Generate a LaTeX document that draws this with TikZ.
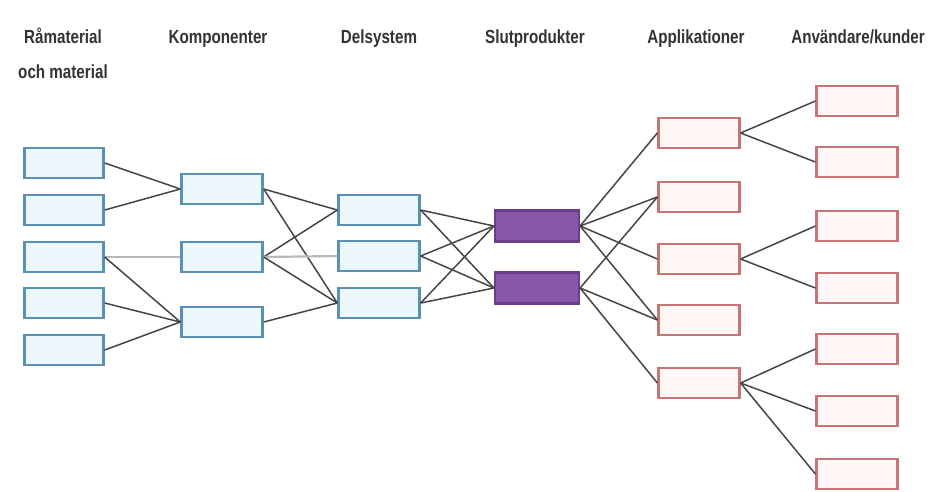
\documentclass[tikz,border=0pt]{standalone}
\usepackage{fontspec}
\setmainfont{Liberation Sans}[FakeStretch=0.8]
\definecolor{bluebd}{HTML}{5A90B4}
\definecolor{bluefill}{HTML}{ECF8FC}
\definecolor{redbd}{HTML}{C87474}
\definecolor{redfill}{HTML}{FFF8F6}
\definecolor{purpfill}{HTML}{8A58A8}
\definecolor{purpbd}{HTML}{6A3F88}
\definecolor{linec}{HTML}{454545}
\begin{document}
\begin{tikzpicture}[x=1pt,y=-1pt,
  bluebox/.style={draw=bluebd,fill=bluefill,line width=2.4pt,minimum width=79pt,minimum height=30pt,inner sep=0pt},
  redbox/.style={draw=redbd,fill=redfill,line width=2.2pt,minimum width=81pt,minimum height=30pt,inner sep=0pt},
  purpbox/.style={draw=purpbd,fill=purpfill,line width=2.2pt,minimum width=84pt,minimum height=31pt,inner sep=0pt},
  conn/.style={draw=linec,line width=1.5pt},
  lconn/.style={draw=gray!55,line width=2.2pt},
  title/.style={anchor=base,font=\fontsize{19}{22}\selectfont\bfseries,text=black!80,inner sep=0pt}]
\useasboundingbox (0,0) rectangle (933,491);
% titles
\node[title] (t1a) at (63,43) {Råmaterial};
\node[title] (t1b) at (63,78) {och material};
\node[title] (t2) at (218,43) {Komponenter};
\node[title] (t3) at (379,43) {Delsystem};
\node[title] (t4) at (535,43) {Slutprodukter};
\node[title] (t5) at (696,43) {Applikationer};
\node[title] (t6) at (858,43) {Användare/kunder};
% column 1
\node[bluebox] (r1) at (64,163) {};
\node[bluebox] (r2) at (64,210) {};
\node[bluebox] (r3) at (64,257) {};
\node[bluebox] (r4) at (64,303) {};
\node[bluebox] (r5) at (64,350) {};
% column 2
\node[bluebox,minimum width=81pt] (c1) at (222,189) {};
\node[bluebox,minimum width=81pt] (c2) at (222,257) {};
\node[bluebox,minimum width=81pt] (c3) at (222,322) {};
% column 3
\node[bluebox,minimum width=81pt] (d1) at (379,210) {};
\node[bluebox,minimum width=81pt] (d2) at (379,256) {};
\node[bluebox,minimum width=81pt] (d3) at (379,303) {};
% column 4
\node[purpbox] (p1) at (537,226) {};
\node[purpbox] (p2) at (537,288) {};
% column 5
\node[redbox] (a1) at (699,133) {};
\node[redbox] (a2) at (699,197) {};
\node[redbox] (a3) at (699,259) {};
\node[redbox] (a4) at (699,320) {};
\node[redbox] (a5) at (699,383) {};
% column 6
\node[redbox] (u1) at (857,101) {};
\node[redbox] (u2) at (857,162) {};
\node[redbox] (u3) at (857,226) {};
\node[redbox] (u4) at (857,288) {};
\node[redbox] (u5) at (857,349) {};
\node[redbox] (u6) at (857,411) {};
\node[redbox] (u7) at (857,474) {};
% connectors col1 -> col2
\draw[conn] (r1.east) -- (c1.west);
\draw[conn] (r2.east) -- (c1.west);
\draw[lconn] (r3.east) -- (c2.west);
\draw[conn] (r3.east) -- (c3.west);
\draw[conn] (r4.east) -- (c3.west);
\draw[conn] (r5.east) -- (c3.west);
% col2 -> col3
\draw[conn] (c1.east) -- (d1.west);
\draw[conn] (c1.east) -- (d3.west);
\draw[conn] (c2.east) -- (d1.west);
\draw[lconn] (c2.east) -- (d2.west);
\draw[conn] (c2.east) -- (d3.west);
\draw[conn] (c3.east) -- (d3.west);
% col3 -> col4
\foreach \d in {d1,d2,d3}{
  \draw[conn] (\d.east) -- (p1.west);
  \draw[conn] (\d.east) -- (p2.west);
}
% col4 -> col5
\draw[conn] (p1.east) -- (a1.west);
\draw[conn] (p1.east) -- (a2.west);
\draw[conn] (p1.east) -- (a3.west);
\draw[conn] (p1.east) -- (a4.west);
\draw[conn] (p2.east) -- (a2.west);
\draw[conn] (p2.east) -- (a4.west);
\draw[conn] (p2.east) -- (a5.west);
% col5 -> col6
\draw[conn] (a1.east) -- (u1.west);
\draw[conn] (a1.east) -- (u2.west);
\draw[conn] (a3.east) -- (u3.west);
\draw[conn] (a3.east) -- (u4.west);
\draw[conn] (a5.east) -- (u5.west);
\draw[conn] (a5.east) -- (u6.west);
\draw[conn] (a5.east) -- (u7.west);
\end{tikzpicture}
\end{document}
